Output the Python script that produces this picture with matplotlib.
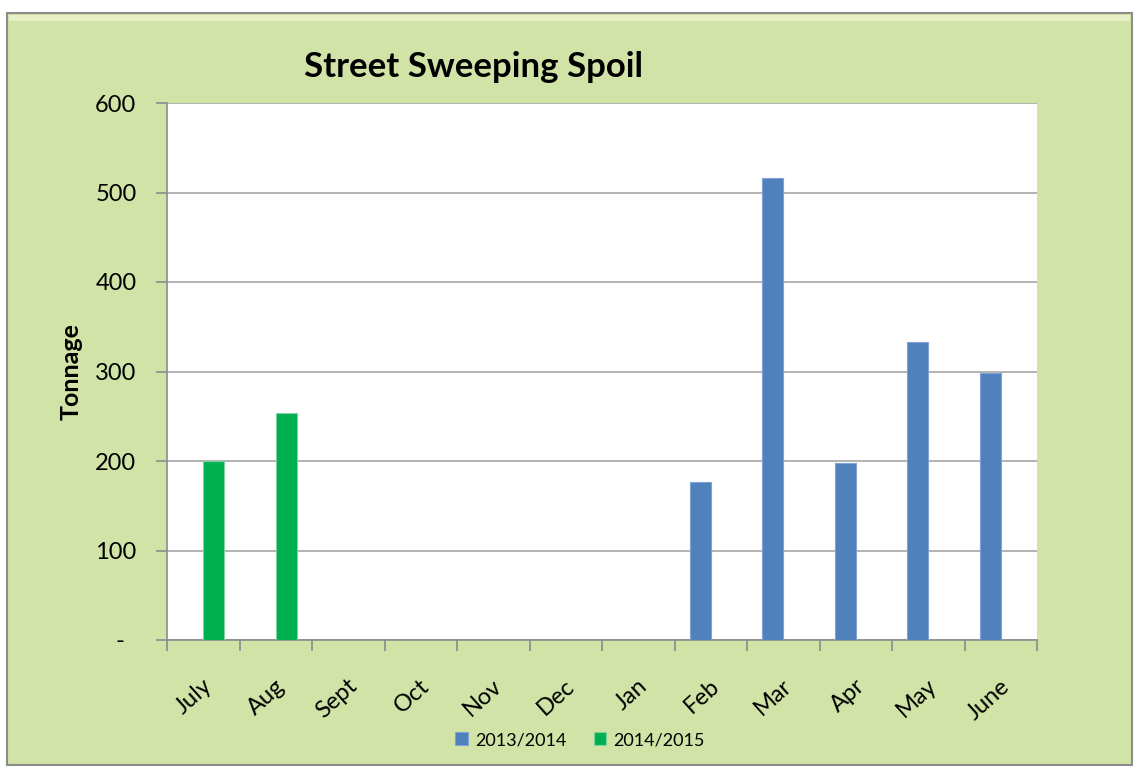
import numpy as np
import matplotlib.pyplot as plt
import matplotlib.patches as mpatches
from matplotlib.transforms import ScaledTranslation

plt.rcParams['font.family'] = ['Lato', 'DejaVu Sans']

months = ['July', 'Aug', 'Sept', 'Oct', 'Nov', 'Dec', 'Jan', 'Feb', 'Mar', 'Apr', 'May', 'June']
s1314 = [0, 0, 0, 0, 0, 0, 0, 176, 516, 198, 333, 298]
s1415 = [200, 254, 0, 0, 0, 0, 0, 0, 0, 0, 0, 0]
series_names = ['2013/2014', '2014/2015']
yticks = [0, 100, 200, 300, 400, 500, 600]
ytick_labels = ['-  ', '100', '200', '300', '400', '500', '600']

W, H = 1134, 769
bg = '#d1e3a6'
blue = '#4f81bd'
green = '#00b050'

fig = plt.figure(figsize=(W / 100, H / 100), dpi=100)
fig.patch.set_facecolor('white')

# outer chart frame
frame = mpatches.Rectangle((7 / W, 4 / H), 1125 / W, 752 / H, transform=fig.transFigure,
                           facecolor=bg, edgecolor='#8c8c8c', linewidth=1.5, zorder=-2)
fig.patches.append(frame)
hl = mpatches.Rectangle((9 / W, 748 / H), 1121 / W, 6 / H, transform=fig.transFigure,
                        facecolor='#e6f0c4', edgecolor='none', zorder=-1)
fig.patches.append(hl)

ax = fig.add_axes([167 / W, (H - 640) / H, 870 / W, 537 / H])
ax.set_facecolor('white')

x = np.arange(len(months))
w = 0.29
b1 = ax.bar(x - w / 2, s1314, w, color=blue, edgecolor='#7fa3d3', linewidth=0.8,
            label=series_names[0], zorder=3)
b2 = ax.bar(x + w / 2, s1415, w, color=green, edgecolor='#7fd3a0', linewidth=0.8,
            label=series_names[1], zorder=3)

ax.set_xlim(-0.5, len(months) - 0.5)
ax.set_ylim(0, 600)
ax.set_yticks(yticks)
ax.set_yticklabels(ytick_labels, fontsize=17)
ax.yaxis.grid(True, color='#a6a6a6', linewidth=1.2, zorder=1)
ax.set_axisbelow(True)

ax.set_xticks(np.arange(len(months) + 1) - 0.5, minor=False)
ax.set_xticklabels([])
ax.set_xticks(x, minor=True)
ax.set_xticklabels(months, minor=True, rotation=42, ha='right', va='center',
                   rotation_mode='anchor', fontsize=17)
ax.tick_params(axis='x', which='minor', length=0, pad=31)
ax.tick_params(axis='x', which='major', length=8, color='#8c8c8c', width=1.2)
ax.tick_params(axis='y', length=8, color='#8c8c8c', width=1.2, pad=14)
for lab in ax.get_xticklabels(minor=True):
    lab.set_transform(lab.get_transform() + ScaledTranslation(0.06, 0, fig.dpi_scale_trans))

for s in ['top', 'right']:
    ax.spines[s].set_visible(False)
for s in ['left', 'bottom']:
    ax.spines[s].set_color('#8c8c8c')
    ax.spines[s].set_linewidth(1.2)

ax.set_ylabel('Tonnage', fontsize=18, fontweight='bold', labelpad=9)

fig.text(473 / W, 1 - 67 / H, 'Street Sweeping Spoil', ha='center', va='center',
         fontsize=25, fontweight='bold')

fig.legend(handles=[b1, b2], labels=series_names, loc='center',
           bbox_to_anchor=(580 / W, 1 - 740 / H), ncol=2, frameon=False,
           fontsize=13, handlelength=0.7, handleheight=0.7, handletextpad=0.4,
           columnspacing=1.5)

fig.savefig('out.png', dpi=100, facecolor='white')
